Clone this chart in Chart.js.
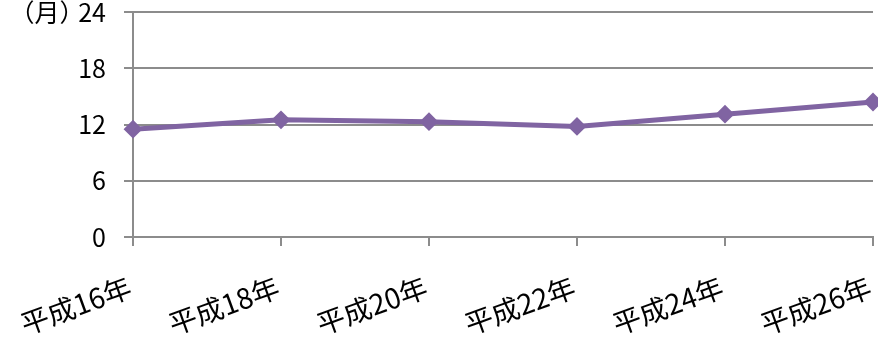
<!DOCTYPE html>
<html lang="ja">
<head>
<meta charset="utf-8">
<script src="https://cdn.jsdelivr.net/npm/chart.js@4"></script>
<style>
  html, body { margin: 0; padding: 0; background: #fff; }
  #wrap { width: 878px; height: 350px; }
</style>
</head>
<body>
<div id="wrap"><canvas id="c" width="878" height="350"></canvas></div>
<script>
// Categories (years) and the average period in months
const years = ['平成16年', '平成18年', '平成20年', '平成22年', '平成24年', '平成26年'];
const months = [11.5, 12.5, 12.3, 11.8, 13.1, 14.4];
const yTicks = [0, 6, 12, 18, 24];
const unitLabel = '（月）';

const FONT = '"Noto Sans CJK JP", "Noto Sans", sans-serif';
const GRID = '#8c8c8c';

// Unit label drawn beside the top y tick
const unitPlugin = {
  id: 'unitLabel',
  afterDraw(chart) {
    const { ctx, scales } = chart;
    const y = scales.y.getPixelForValue(yTicks[yTicks.length - 1]);
    ctx.save();
    ctx.font = '25px ' + FONT;
    ctx.fillStyle = '#000';
    ctx.textAlign = 'center';
    ctx.textBaseline = 'middle';
    ctx.fillText(unitLabel, 47, y);
    ctx.restore();
  }
};

new Chart(document.getElementById('c'), {
  type: 'line',
  data: {
    labels: years,
    datasets: [{
      data: months,
      borderColor: '#8064A2',
      backgroundColor: '#8064A2',
      borderWidth: 5,
      tension: 0,
      pointStyle: 'rectRot',
      pointRadius: 8,
      pointBorderWidth: 2,
      pointBackgroundColor: '#8064A2',
      pointBorderColor: '#8064A2',
      clip: false
    }]
  },
  options: {
    responsive: false,
    animation: false,
    layout: { autoPadding: false, padding: { top: 12, right: 5, left: 0, bottom: 0 } },
    plugins: { legend: { display: false }, tooltip: { enabled: false } },
    scales: {
      x: {
        offset: false,
        grid: { drawOnChartArea: false, color: GRID, lineWidth: 2, tickLength: 9 },
        border: { color: GRID, width: 2 },
        ticks: {
          color: '#000',
          font: { family: FONT, size: 28 },
          minRotation: 20,
          maxRotation: 20,
          padding: 24,
          labelOffset: -3
        },
        afterFit(scale) {
          scale.height = 113;
          scale.paddingLeft = 0;
          scale.paddingRight = 0;
        }
      },
      y: {
        min: 0,
        max: 24,
        afterBuildTicks(scale) { scale.ticks = yTicks.map(v => ({ value: v })); },
        grid: { color: GRID, lineWidth: 2, tickLength: 9 },
        border: { color: GRID, width: 2 },
        ticks: {
          color: '#000',
          font: { family: FONT, size: 25 },
          padding: 18
        },
        afterFit(scale) {
          scale.width = 133;
          scale.paddingTop = 0;
          scale.paddingBottom = 0;
        }
      }
    }
  },
  plugins: [unitPlugin]
});
</script>
</body>
</html>
